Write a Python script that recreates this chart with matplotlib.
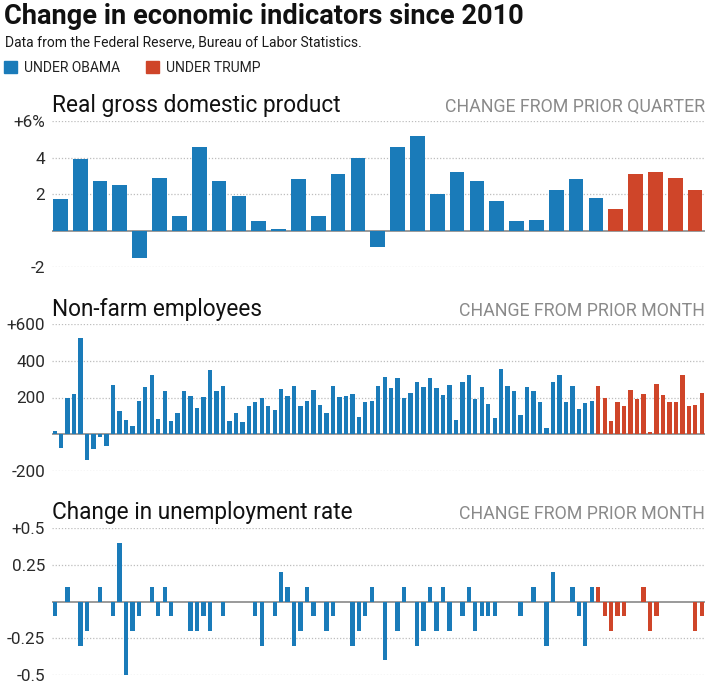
import numpy as np
import matplotlib
matplotlib.use("Agg")
import matplotlib.pyplot as plt
from matplotlib.patches import Rectangle

plt.rcParams['font.family'] = ['Roboto', 'DejaVu Sans']

BLUE = '#1a7bb9'
RED = '#cf4529'

# real GDP, change from prior quarter (%), 2010Q1 - 2018Q1
gdp_obama = [1.7, 3.9, 2.7, 2.5, -1.5, 2.9, 0.8, 4.6, 2.7, 1.9, 0.5, 0.1, 2.8, 0.8,
             3.1, 4.0, -0.9, 4.6, 5.2, 2.0, 3.2, 2.7, 1.6, 0.5, 0.6, 2.2, 2.8, 1.8]
gdp_trump = [1.2, 3.1, 3.2, 2.9, 2.2]

# non-farm employees, change from prior month (thousands), Jan 2010 - May 2018
jobs_obama = [18, -73, 195, 220, 522, -138, -78, -16, -64, 267, 129, 75,
              44, 182, 255, 324, 82, 236, 73, 113, 235, 209, 145, 202,
              349, 235, 264, 73, 118, 69, 156, 173, 195, 155, 131, 244,
              207, 265, 156, 180, 240, 158, 113, 260, 202, 209, 220, 93,
              173, 182, 260, 311, 253, 305, 196, 225, 284, 255, 307, 251,
              211, 267, 78, 282, 325, 193, 256, 164, 89, 353, 264, 235,
              104, 258, 236, 175, 35, 285, 325, 175, 264, 140, 171, 180]
jobs_trump = [260, 200, 73, 175, 155, 240, 191, 220, 13, 271, 216, 175,
              175, 324, 155, 159, 222]

# unemployment rate, change from prior month (points)
unemp_obama = [-0.1, 0, 0.1, 0, -0.3, -0.2, 0, 0.1, 0, -0.1, 0.4, -0.5,
               -0.2, -0.1, 0, 0.1, -0.1, 0.1, -0.1, 0, 0, -0.2, -0.2, -0.1,
               -0.2, 0, -0.1, 0, 0, 0, 0, -0.1, -0.3, 0, -0.1, 0.2,
               0.1, -0.3, -0.2, 0.1, -0.1, 0, -0.2, -0.1, 0, 0, -0.3, -0.2,
               -0.1, 0.1, 0, -0.4, 0, -0.2, 0.1, 0, -0.3, -0.2, 0.1, -0.2,
               0.1, -0.2, 0, -0.1, 0.1, -0.2, -0.1, -0.1, -0.1, 0, 0, 0,
               -0.1, 0, 0.1, 0, -0.3, 0.2, 0, 0, 0.1, -0.1, -0.3, 0.1]
unemp_trump = [0.1, -0.1, -0.2, -0.1, -0.1, 0, 0, 0.1, -0.2, -0.1, 0, 0,
               0, 0, 0, -0.2, -0.1]

panels = [
    ("Real gross domestic product", "CHANGE FROM PRIOR QUARTER", gdp_obama, gdp_trump,
     [6, 4, 2, -2], ["+6%", "4", "2", "-2"], (-2, 6), 0.74, 121, 267, 112),
    ("Non-farm employees", "CHANGE FROM PRIOR MONTH", jobs_obama, jobs_trump,
     [600, 400, 200, -200], ["+600", "400", "200", "-200"], (-200, 600), 0.67, 324, 471, 316),
    ("Change in unemployment rate", "CHANGE FROM PRIOR MONTH", unemp_obama, unemp_trump,
     [0.5, 0.25, -0.25, -0.5], ["+0.5", "0.25", "-0.25", "-0.5"], (-0.5, 0.5), 0.67, 528, 675, 519),
]

W, H = 710, 689
fig = plt.figure(figsize=(W / 100, H / 100), dpi=100)

def fy(y):
    return 1 - y / H

fig.text(4 / W, fy(24), "Change in economic indicators since 2010", fontsize=19.6,
         fontweight='bold', color='#111111', va='baseline')
fig.text(5 / W, fy(46.5), "Data from the Federal Reserve, Bureau of Labor Statistics.",
         fontsize=10, color='#1a1a1a', va='baseline')
fig.patches.append(Rectangle((3.5 / W, fy(73)), 13 / W, 12 / H, transform=fig.transFigure,
                             color=BLUE))
fig.text(24 / W, fy(71.5), "UNDER OBAMA", fontsize=10, color='#222222', va='baseline')
fig.patches.append(Rectangle((146 / W, fy(73)), 12.5 / W, 12 / H, transform=fig.transFigure,
                             color=RED))
fig.text(166 / W, fy(71.5), "UNDER TRUMP", fontsize=10, color='#222222', va='baseline')

left, right = 52, 705
for title, note, obama, trump, ticks, labels, ylim, bw, top, bottom, base in panels:
    ax = fig.add_axes([left / W, fy(bottom), (right - left) / W, (bottom - top) / H])
    vals = list(obama) + list(trump)
    cols = [BLUE] * len(obama) + [RED] * len(trump)
    x = np.arange(len(vals))
    ax.bar(x, vals, width=bw, color=cols, zorder=3)
    ax.axhline(0, color='#9a9a9a', lw=1.4, zorder=2)
    for t in ticks:
        ax.axhline(t, color='#bdbdbd', lw=0.9, ls=(0, (1, 1.5)), zorder=1)
    ax.set_ylim(ylim)
    ax.set_xlim(-0.42, len(vals) - 0.5)
    ax.set_yticks(ticks)
    ax.set_yticklabels(labels)
    ax.set_xticks([])
    ax.tick_params(axis='y', length=0, pad=5, labelsize=12.3, labelcolor='#2a2a2a')
    for s in ax.spines.values():
        s.set_visible(False)
    ax.patch.set_alpha(0)

    fig.text(left / W, fy(base), title, fontsize=16.3, color='#111111', va='baseline')
    fig.text(right / W, fy(base), note, fontsize=12.8, color='#8a8a8a', va='baseline',
             ha='right')

fig.savefig("out.png", dpi=100)
